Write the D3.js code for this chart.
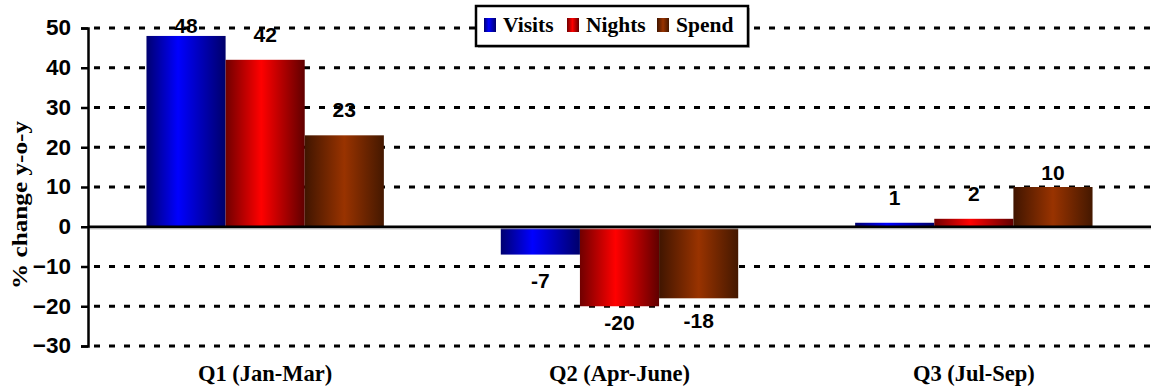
<!DOCTYPE html>
<html>
<head>
<meta charset="utf-8">
<script src="https://cdn.jsdelivr.net/npm/d3@7"></script>
<style>
  html, body { margin: 0; padding: 0; background: #fff; }
  svg { display: block; }
</style>
</head>
<body>
<svg id="chart" width="1151" height="389"></svg>
<script>
// Year-on-year % change by quarter
const categories = ["Q1 (Jan-Mar)", "Q2 (Apr-June)", "Q3 (Jul-Sep)"];
const seriesNames = ["Visits", "Nights", "Spend"];
const visits = [48, -7, 1];
const nights = [42, -20, 2];
const spend = [23, -18, 10];
const yTicks = [-30, -20, -10, 0, 10, 20, 30, 40, 50];

const seriesValues = [visits, nights, spend];

// gradient stops per series: dark edge, bright centre, dark edge
const gradients = [
  { id: "g-visits", stops: [["0%", "#000070"], ["40%", "#0000ff"], ["100%", "#00006a"]] },
  { id: "g-nights", stops: [["0%", "#700000"], ["45%", "#ff0000"], ["100%", "#600000"]] },
  { id: "g-spend",  stops: [["0%", "#401500"], ["50%", "#993300"], ["100%", "#441800"]] }
];

// label vertical placement (px from bar end); missing = default
const labelShift = {
  "0-0": -3, "2-2": -7,
  "0-1": 33, "1-1": 24, "2-1": 30
};

const svg = d3.select("#chart");
const W = 1151, H = 389;
const plot = { left: 88, right: 1151, top: 28, bottom: 346 };

const y = d3.scaleLinear().domain([-30, 50]).range([plot.bottom, plot.top]);
const x0 = d3.scaleBand().domain(categories).range([plot.left, plot.right]).paddingInner(0.33).paddingOuter(0.165);
const x1 = d3.scaleBand().domain(seriesNames).range([0, x0.bandwidth()]).padding(0);

const SANS = "Liberation Sans, Arial, sans-serif";
const SERIF = "Liberation Serif, Times New Roman, serif";

const defs = svg.append("defs");
gradients.forEach(g => {
  const lg = defs.append("linearGradient").attr("id", g.id)
    .attr("x1", "0%").attr("x2", "100%").attr("y1", "0%").attr("y2", "0%");
  g.stops.forEach(s => lg.append("stop").attr("offset", s[0]).attr("stop-color", s[1]));
});

// dashed gridlines
svg.append("g").selectAll("line")
  .data(yTicks.filter(t => t !== 0))
  .join("line")
  .attr("x1", plot.left + 6).attr("x2", W)
  .attr("y1", d => y(d)).attr("y2", d => y(d))
  .attr("stroke", "#000").attr("stroke-width", 3)
  .attr("stroke-dasharray", "6,9");

// bars
const groups = svg.append("g").selectAll("g")
  .data(categories)
  .join("g")
  .attr("transform", d => `translate(${x0(d)},0)`);

const cells = (c, ci) => seriesNames.map((s, si) => ({ s, si, ci, v: seriesValues[si][ci] }));

groups.selectAll("rect")
  .data(cells)
  .join("rect")
  .attr("x", d => x1(d.s))
  .attr("width", x1.bandwidth())
  .attr("y", d => y(Math.max(0, d.v)))
  .attr("height", d => Math.abs(y(d.v) - y(0)))
  .attr("fill", d => `url(#${gradients[d.si].id})`);

// zero line with faint shadow
svg.append("line")
  .attr("x1", plot.left).attr("x2", W)
  .attr("y1", y(0) + 2).attr("y2", y(0) + 2)
  .attr("stroke", "#999").attr("stroke-width", 1);
svg.append("line")
  .attr("x1", plot.left).attr("x2", W)
  .attr("y1", y(0)).attr("y2", y(0))
  .attr("stroke", "#000").attr("stroke-width", 2.5);

// y axis
const yAxis = d3.axisLeft(y).tickValues(yTicks).tickSize(7).tickPadding(10).tickFormat(d3.format("d"));
const ya = svg.append("g").attr("transform", `translate(${plot.left},0)`).call(yAxis);
ya.select(".domain").attr("stroke", "#000").attr("stroke-width", 2.5);
ya.selectAll(".tick line").attr("stroke", "#000").attr("stroke-width", 2.5);
ya.selectAll(".tick text")
  .attr("font-family", SANS)
  .attr("font-weight", "bold").attr("font-size", 22.5)
  .attr("fill", "#000").attr("dy", "0.3em");

// value labels
groups.selectAll("text.val")
  .data(cells)
  .join("text")
  .attr("class", "val")
  .attr("x", d => x1(d.s) + x1.bandwidth() / 2)
  .attr("y", d => {
    const k = `${d.si}-${d.ci}`;
    const def = d.v >= 0 ? -18 : 24;
    const off = labelShift[k] !== undefined ? labelShift[k] : def;
    return y(d.v) + off;
  })
  .attr("text-anchor", "middle")
  .attr("font-family", SANS)
  .attr("font-weight", "bold").attr("font-size", 21)
  .attr("fill", "#000")
  .text(d => d.v);

// category labels
svg.append("g").selectAll("text")
  .data(categories)
  .join("text")
  .attr("x", d => x0(d) + x0.bandwidth() / 2)
  .attr("y", 381)
  .attr("text-anchor", "middle")
  .attr("font-family", SERIF)
  .attr("font-weight", "bold").attr("font-size", 22.5)
  .attr("fill", "#000")
  .text(d => d);

// y axis title
svg.append("text")
  .attr("transform", "translate(27,205) rotate(-90)")
  .attr("text-anchor", "middle")
  .attr("font-family", SERIF)
  .attr("font-weight", "bold").attr("font-size", 21)
  .attr("textLength", 168).attr("lengthAdjust", "spacingAndGlyphs")
  .attr("fill", "#000")
  .text("% change y-o-y");

// legend
const lg = svg.append("g").attr("transform", "translate(476,6)");
lg.append("rect").attr("x", 2).attr("y", 2).attr("width", 272).attr("height", 40).attr("fill", "#bbb");
lg.append("rect").attr("width", 272).attr("height", 40)
  .attr("fill", "#fff").attr("stroke", "#000").attr("stroke-width", 2.5);
const legendX = [8, 91, 181];
const items = lg.selectAll("g.item").data(seriesNames).join("g")
  .attr("class", "item")
  .attr("transform", (d, i) => `translate(${legendX[i]},12)`);
items.append("rect").attr("width", 12).attr("height", 14)
  .attr("fill", (d, i) => `url(#${gradients[i].id})`);
items.append("text").attr("x", 19).attr("y", 13.5)
  .attr("font-family", SERIF)
  .attr("font-weight", "bold").attr("font-size", 21.5)
  .attr("fill", "#000")
  .text(d => d);
</script>
</body>
</html>
